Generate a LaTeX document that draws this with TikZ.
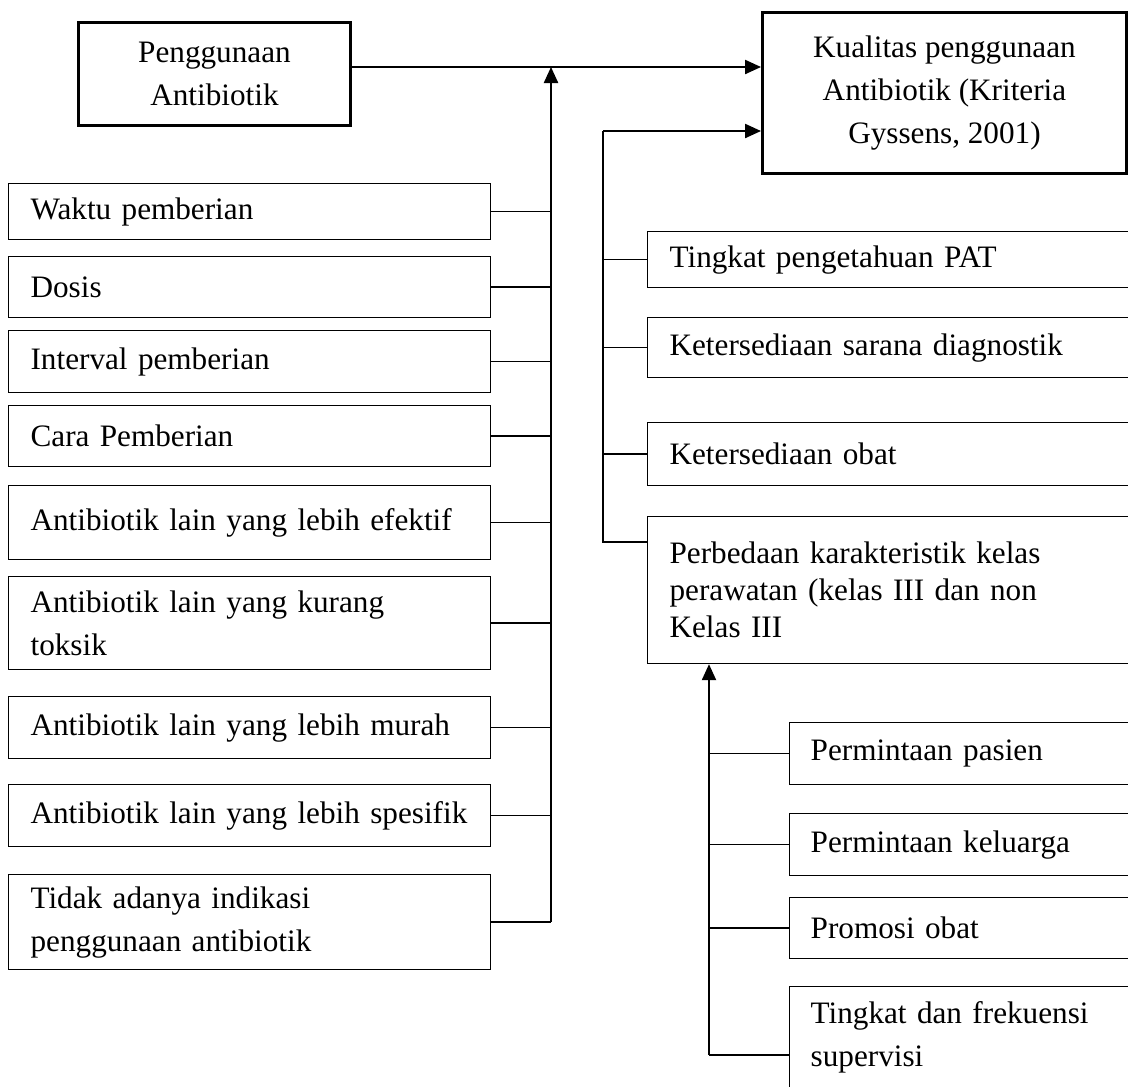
\documentclass[tikz,border=0pt]{standalone}
\usepackage{fontspec}
\setmainfont{Liberation Serif}
\usetikzlibrary{arrows.meta}
\newcommand{\pxu}{0.375pt}

\begin{document}
\begin{tikzpicture}[x=\pxu, y=-\pxu,
    every node/.style={font=\fontsize{11.7}{16.1}\selectfont},
    box/.style={draw, line width=0.45pt, anchor=north west, inner ysep=0pt, align=left, minimum height=#1*\pxu},
    lbox/.style={box=#1, text width=164.25pt, inner xsep=8.25pt},
    rbox/.style={box=#1, text width=168.4pt, inner xsep=8.25pt},
    sbox/.style={box=#1, text width=115.9pt, inner xsep=7.9pt},
    bigbox/.style={draw, line width=1.1pt, anchor=north west, inner sep=0pt, align=center},
    link/.style={line width=0.5pt},
    arr/.style={-{Triangle[length=6pt,width=5.3pt]}, line width=0.7pt}]
    \useasboundingbox (0,0) rectangle (1128,1086);
    \clip (0,0) rectangle (1128,1086);

    \node[bigbox, minimum width=272*\pxu, minimum height=103*\pxu] (pa) at (77,21) {Penggunaan\\Antibiotik};
    \node[bigbox, minimum width=364*\pxu, minimum height=161*\pxu] (kq) at (761,11) {Kualitas penggunaan\\Antibiotik (Kriteria\\Gyssens, 2001)};

    \node[lbox=56] (l1) at (8,183) {Waktu pemberian};
    \node[lbox=61] (l2) at (8,256) {Dosis};
    \node[lbox=62] (l3) at (8,330) {Interval pemberian};
    \node[lbox=61] (l4) at (8,405) {Cara Pemberian};
    \node[lbox=74] (l5) at (8,485) {Antibiotik lain yang lebih efektif};
    \node[lbox=93] (l6) at (8,576) {Antibiotik lain yang kurang\\toksik};
    \node[lbox=62] (l7) at (8,696) {Antibiotik lain yang lebih murah};
    \node[lbox=62] (l8) at (8,784) {Antibiotik lain yang lebih spesifik};
    \node[lbox=95] (l9) at (8,874) {Tidak adanya indikasi\\penggunaan antibiotik};

    \node[rbox=56] (r1) at (647,231) {Tingkat pengetahuan PAT};
    \node[rbox=60] (r2) at (647,317) {Ketersediaan sarana diagnostik};
    \node[rbox=63] (r3) at (647,422) {Ketersediaan obat};
    \node[rbox=147, font=\fontsize{11.7}{13.9}\selectfont] (pb) at (647,516) {Perbedaan karakteristik kelas\\perawatan (kelas III dan non\\Kelas III};

    \node[sbox=62] (s1) at (789,722) {Permintaan pasien};
    \node[sbox=62] (s2) at (789,813) {Permintaan keluarga};
    \node[sbox=61] (s3) at (789,897) {Promosi obat};
    \node[sbox=102] (s4) at (789,986) {Tingkat dan frekuensi\\supervisi};

    \coordinate (tl) at (551,67);
    \coordinate (tr) at (603,131);
    \coordinate (ts) at (709,1055);

    \draw[arr] (tl -| pa.east) -- (tl -| kq.west);
    \draw[arr] (tl |- l9.east) -- (tl);
    \foreach \n in {l1,l2,l3,l4,l5,l6,l7,l8,l9}
        \draw[link] (\n.east) -- (\n.east -| tl);

    \draw[arr] (tr) -- (tr -| kq.west);
    \draw[line width=0.6pt] (tr) |- ([yshift=-26*\pxu]pb.north west);
    \foreach \n in {r1,r2,r3}
        \draw[link] (\n.west) -- (\n.west -| tr);

    \draw[arr] (ts) -- (ts |- pb.south);
    \foreach \n in {s1,s2,s3}
        \draw[link] (\n.west) -- (\n.west -| ts);
    \draw[link] (ts) -- (ts -| s4.west);
\end{tikzpicture}
\end{document}
